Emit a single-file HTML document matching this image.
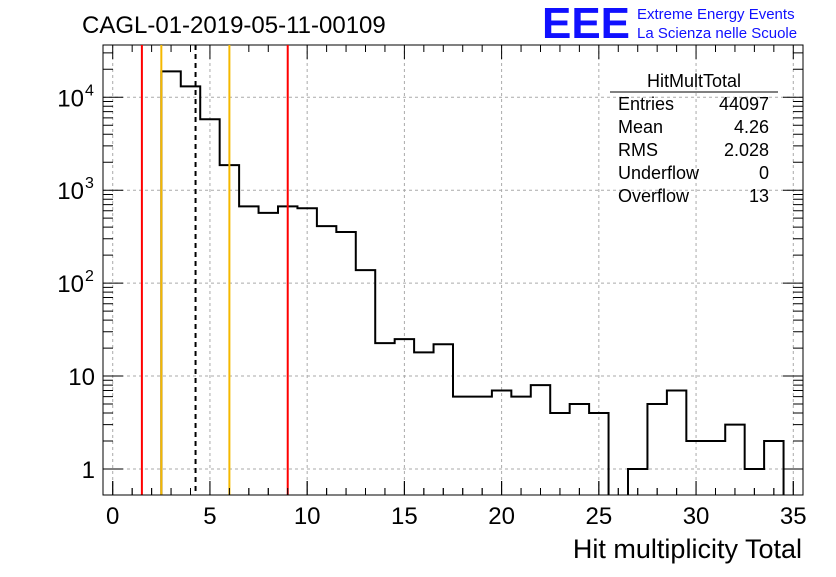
<!DOCTYPE html>
<html><head><meta charset="utf-8"><style>
body{margin:0;background:#fff;width:836px;height:572px;overflow:hidden}
svg text{font-family:"Liberation Sans",sans-serif}
</style></head><body>
<svg id="c" width="836" height="572" xmlns="http://www.w3.org/2000/svg">
<text x="82" y="33" font-size="24">CAGL-01-2019-05-11-00109</text>
<g>
<text x="542" y="38" font-size="44" fill="#1010ff" font-weight="bold" textLength="88" lengthAdjust="spacingAndGlyphs">EEE</text>
<text x="637" y="19" font-size="15" fill="#1010ff">Extreme Energy Events</text>
<text x="637" y="38" font-size="15" fill="#1010ff">La Scienza nelle Scuole</text>
</g>
<text x="802" y="558" font-size="27" text-anchor="end">Hit multiplicity Total</text>
<g id="grid"></g><g id="axes"></g><g id="marks"></g>
<g font-size="18">
<text x="694" y="87" text-anchor="middle">HitMultTotal</text>
<line x1="610" y1="92" x2="778" y2="92" stroke="#000"/>
<text x="618" y="110">Entries</text><text x="769" y="110" text-anchor="end">44097</text>
<text x="618" y="133">Mean</text><text x="769" y="133" text-anchor="end">4.26</text>
<text x="618" y="156">RMS</text><text x="769" y="156" text-anchor="end">2.028</text>
<text x="618" y="179">Underflow</text><text x="769" y="179" text-anchor="end">0</text>
<text x="618" y="202">Overflow</text><text x="769" y="202" text-anchor="end">13</text>
</g>
</svg>
<script>
const binCenters=[0,1,2,3,4,5,6,7,8,9,10,11,12,13,14,15,16,17,18,19,20,21,22,23,24,25,26,27,28,29,30,31,32,33,34,35];
const counts=[0,0,0,19000,13100,5800,1860,670,570,670,640,410,355,138,22.6,25,18,22,6,6,7,6,8,4,5,4,0,1,5,7,2,2,3,1,2,0];
const xTicks=[0,5,10,15,20,25,30,35];
const yTicks=[1,10,100,1000,10000];
const yTickBase=["1","10","10","10","10"];
const yTickExp=["","","2","3","4"];
const cutLines=[1.5,9];
const accLines=[2.5,6];
const meanValue=4.26;
const L=103,R=803,T=45,B=495,xmin=-0.5,xmax=35.5,ymin=Math.log10(0.525),ymax=Math.log10(36500);
const X=v=>L+(v-xmin)/(xmax-xmin)*(R-L);
const Y=v=>B-(Math.log10(v)-ymin)/(ymax-ymin)*(B-T);
const NS="http://www.w3.org/2000/svg";
function mk(tag,par,at){const e=document.createElementNS(NS,tag);for(const k in at)e.setAttribute(k,at[k]);document.getElementById(par).appendChild(e);return e;}
xTicks.forEach(t=>{
 const g=mk('line','grid',{x1:X(t),x2:X(t),y1:T,y2:B,stroke:'#aaa','stroke-dasharray':'3,3'});
 
 
});
yTicks.forEach((t,i)=>{
 const g=mk('line','grid',{x1:L,x2:R,y1:Y(t),y2:Y(t),stroke:'#aaa','stroke-dasharray':'3,3'});
 
 
 const hasExp=yTickExp[i]!=="";
 const tx=mk('text','axes',{x:hasExp?L-19:L-8,y:Y(t)+9,'font-size':24,'text-anchor':'end'});
 tx.textContent=yTickBase[i];
 
 
 if(hasExp){const ex=mk('text','axes',{x:L-18,y:Y(t)-2,'font-size':16,'text-anchor':'start'});ex.textContent=yTickExp[i];
  
  }
});
let tk='';
for(let v=0;v<=35;v++){const l=v%5==0?14:7;tk+=`M${X(v)},${B}v${-l}M${X(v)},${T}v${l}`;}
for(let d=0;d<=4;d++)for(let m=1;m<10;m++){const v=m*Math.pow(10,d);if(v<0.525||v>36500)continue;const l=m==1?20:10;tk+=`M${L},${Y(v)}h${l}M${R},${Y(v)}h${-l}`;}
const ticks=mk('path','axes',{d:tk,stroke:'#000',fill:'none'});


const fr=mk('rect','axes',{x:L,y:T,width:R-L,height:B-T,fill:'none',stroke:'#000'});


let d='';
counts.forEach((c,i)=>{const x0=X(binCenters[i]-0.5),x1=X(binCenters[i]+0.5);const y=c>0?Math.min(B,Y(c)):B+2;d+=(i==0?`M${x0},${y}`:`L${x0},${y}`)+`L${x1},${y}`;});
const h=mk('path','marks',{d:d,stroke:'#000','stroke-width':2,fill:'none'});


mk('rect','marks',{x:0,y:B+0.5,width:836,height:20,fill:'#fff'});
cutLines.forEach(v=>{const l=mk('line','marks',{x1:X(v),x2:X(v),y1:T,y2:B,stroke:'#f00','stroke-width':2});
 
 });
accLines.forEach(v=>{const l=mk('line','marks',{x1:X(v),x2:X(v),y1:T,y2:B,stroke:'#f5b800','stroke-width':2});
 
 });
const ml=mk('line','marks',{x1:X(meanValue),x2:X(meanValue),y1:T,y2:B,stroke:'#000','stroke-width':2,'stroke-dasharray':'5,4'});


mk('line','marks',{x1:L,x2:R,y1:B,y2:B,stroke:'#000'});
let tk2='';for(let v=0;v<=35;v++){const l=v%5==0?14:7;tk2+=`M${X(v)},${B}v${-l}`;}
mk('path','marks',{d:tk2,stroke:'#000'});
xTicks.forEach(t=>{const tx=mk('text','marks',{x:X(t),y:B+29,'font-size':24,'text-anchor':'middle'});tx.textContent=t;
 
 });
</script>
</body></html>
